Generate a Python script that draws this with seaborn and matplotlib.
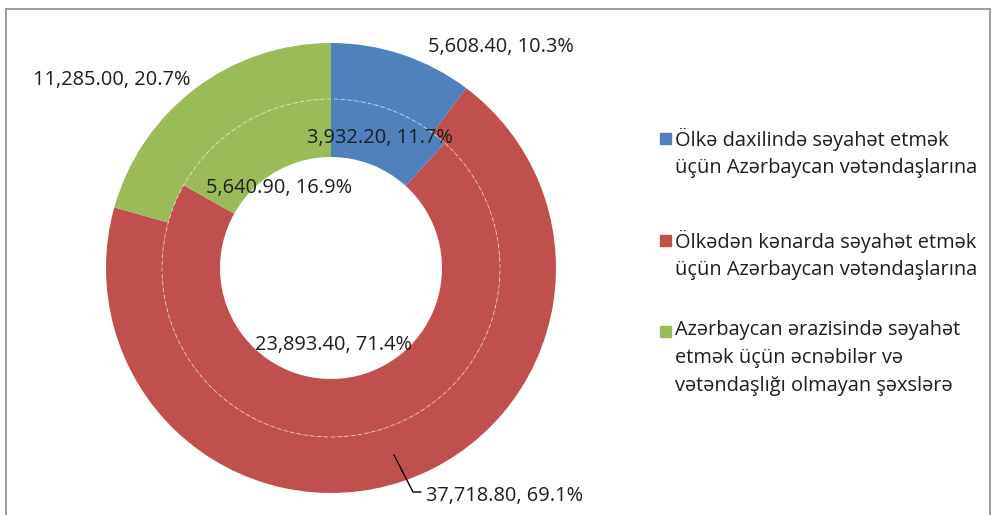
import matplotlib.pyplot as plt
import seaborn as sns
from matplotlib.patches import Rectangle, Circle

# data
categories = [
    'Ölkə daxilində səyahət etmək\nüçün Azərbaycan vətəndaşlarına',
    'Ölkədən kənarda səyahət etmək\nüçün Azərbaycan vətəndaşlarına',
    'Azərbaycan ərazisində səyahət\netmək üçün əcnəbilər və\nvətəndaşlığı olmayan şəxslərə',
]
outer_values = [5608.40, 37718.80, 11285.00]
inner_values = [3932.20, 23893.40, 5640.90]
colors = ['#4F81BD', '#C0504D', '#9BBB59']

sns.set_theme(style='white')
plt.rcParams['font.family'] = ['Open Sans', 'DejaVu Sans']
FS = 14.4

W, H = 994, 515
fig = plt.figure(figsize=(W / 100, H / 100), dpi=100)

# donut axes: centre (331, 268) px, outer radius 225 px
cx, cy, R = 331, 268, 225
ax = fig.add_axes([(cx - R) / W, (H - cy - R) / H, 2 * R / W, 2 * R / H])

r_out, r_mid, r_in = 1.0, 169 / 225, 111 / 225
ax.pie(outer_values, colors=colors, radius=r_out, startangle=90, counterclock=False,
       wedgeprops=dict(width=r_out - r_mid, edgecolor='none'))
ax.pie(inner_values, colors=colors, radius=r_mid, startangle=90, counterclock=False,
       wedgeprops=dict(width=r_mid - r_in, edgecolor='none'))
ax.add_patch(Circle((0, 0), r_mid, fill=False, ec='white', lw=0.7, ls=(0, (4, 3)), alpha=0.55))
ax.set_xlim(-1, 1)
ax.set_ylim(-1, 1)
ax.set_aspect('equal')
ax.axis('off')


def lab(v, vals):
    return f'{v:,.2f}, {v / sum(vals) * 100:.1f}%'


def px(x, y):
    return (x - cx) / R, (cy - y) / R


txt = dict(fontsize=FS, ha='left', va='center', color='#1e1e1e', clip_on=False)

# outer ring labels
ax.text(*px(428, 47), lab(outer_values[0], outer_values), **txt)
ax.text(*px(426, 496), lab(outer_values[1], outer_values), **txt)
ax.text(*px(33, 80), lab(outer_values[2], outer_values), **txt)
lx, ly = zip(px(394, 455), px(413, 492), px(421, 492))
ax.plot(lx, ly, color='black', lw=1, clip_on=False)

# inner ring labels
ax.text(*px(307, 138), lab(inner_values[0], inner_values), **txt)
ax.text(*px(255, 345), lab(inner_values[1], inner_values), **txt)
ax.text(*px(206, 188), lab(inner_values[2], inner_values), **txt)

# legend
first_lines = [138, 240, 331]
for c, t, y in zip(colors, categories, first_lines):
    fig.patches.append(Rectangle((660 / W, (H - y - 5.5) / H), 11 / W, 11 / H,
                                 transform=fig.transFigure, color=c))
    fig.text(675 / W, (H - y + 10.5) / H, t, fontsize=FS, ha='left', va='top',
             linespacing=1.5, color='#1e1e1e')

# outer frame
fig.patches.append(Rectangle((6 / W, -0.02), (990 - 6) / W, (H - 9) / H + 0.02,
                             transform=fig.transFigure, fill=False, ec='#8c8c8c', lw=1.2))

fig.savefig('out.png', dpi=100)
